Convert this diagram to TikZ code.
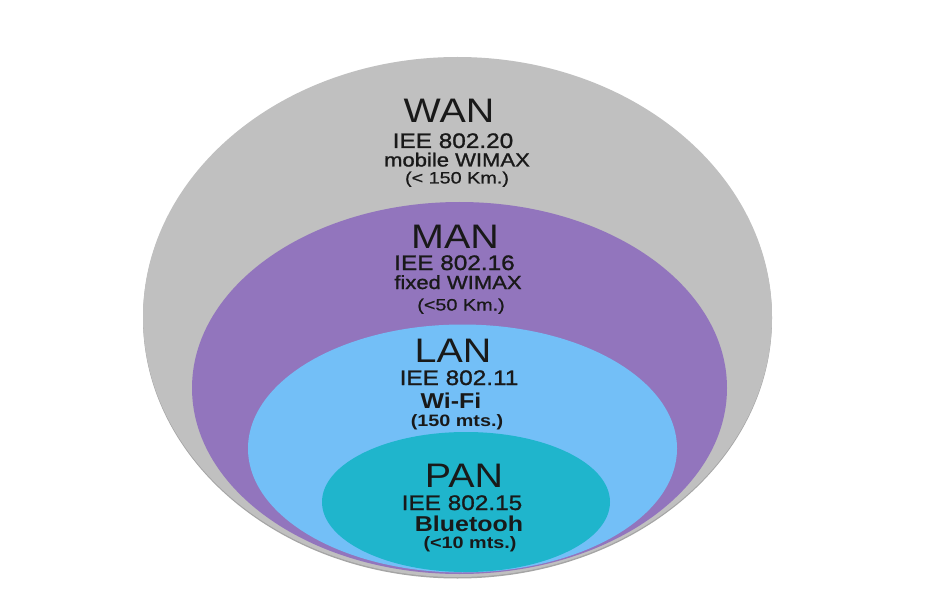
\documentclass[tikz,border=0pt]{standalone}
\usepackage{fontspec}
\setmainfont{Liberation Sans}
\newfontfamily\tf[FakeStretch=1.16]{Liberation Sans}
\newfontfamily\tfm[FakeStretch=1.16,FakeBold=1.2]{Liberation Sans}
\newfontfamily\tfs[FakeStretch=1.2,FakeBold=0.8]{Liberation Sans}
\newfontfamily\tfb[FakeStretch=1.16]{Liberation Sans Bold}
\newfontfamily\tfsb[FakeStretch=1.2]{Liberation Sans Bold}
\definecolor{wancol}{RGB}{192,192,192}
\definecolor{mancol}{RGB}{146,117,189}
\definecolor{lancol}{RGB}{115,191,247}
\definecolor{pancol}{RGB}{31,181,204}
\definecolor{shadowcol}{RGB}{165,165,165}
\definecolor{txt}{RGB}{25,25,25}
\begin{document}
\begin{tikzpicture}[x=1pt,y=-1pt,
  lbl/.style={anchor=base,inner sep=0pt,text=txt},
  big/.style={lbl,font=\tf\fontsize{34}{36}\selectfont},
  std/.style={lbl,font=\tfm\fontsize{21}{23}\selectfont},
  mid/.style={lbl,font=\tfm\fontsize{19}{21}\selectfont},
  small/.style={lbl,font=\tfs\fontsize{16.5}{18}\selectfont},
  stdb/.style={lbl,font=\tfb\fontsize{21.5}{23}\selectfont},
  smallb/.style={lbl,font=\tfsb\fontsize{16.5}{18}\selectfont}]
\useasboundingbox[fill=white] (0,0) rectangle (938,615);
% ellipses
\fill[shadowcol] (457.5,318.5) ellipse [x radius=314.5pt, y radius=260pt];
\fill[wancol] (457.5,317) coordinate (wanc) ellipse [x radius=314.5pt, y radius=260pt];
\fill[mancol] (459.5,388) coordinate (manc) ellipse [x radius=267.5pt, y radius=186pt];
\fill[lancol] (462.5,448.5) coordinate (lanc) ellipse [x radius=214.5pt, y radius=124pt];
\fill[pancol] (466,502) coordinate (panc) ellipse [x radius=144pt, y radius=70pt];
% WAN
\node[big]   (wan)  at (449,123) {WAN};
\node[std]   (wan1) at (453,148) {IEE 802.20};
\node[mid]   (wan2) at (457,166.5) {mobile WIMAX};
\node[small] (wan3) at (457,183.5) {(< 150 Km.)};
% MAN
\node[big]   (man)  at (455,248) {MAN};
\node[std]   (man1) at (454.5,270) {IEE 802.16};
\node[mid]   (man2) at (458,289) {fixed WIMAX};
\node[small] (man3) at (461,310.5) {(<50 Km.)};
% LAN
\node[big]   (lan)  at (453,362) {LAN};
\node[std]   (lan1) at (459,385) {IEE 802.11};
\node[stdb]  (lan2) at (451,408) {Wi-Fi};
\node[smallb] (lan3) at (457,426) {(150 mts.)};
% PAN
\node[big]   (pan)  at (464,487) {PAN};
\node[std]   (pan1) at (462,510) {IEE 802.15};
\node[stdb]  (pan2) at (469,531.5) {Bluetooh};
\node[smallb] (pan3) at (470,548.5) {(<10 mts.)};
\end{tikzpicture}
\end{document}
